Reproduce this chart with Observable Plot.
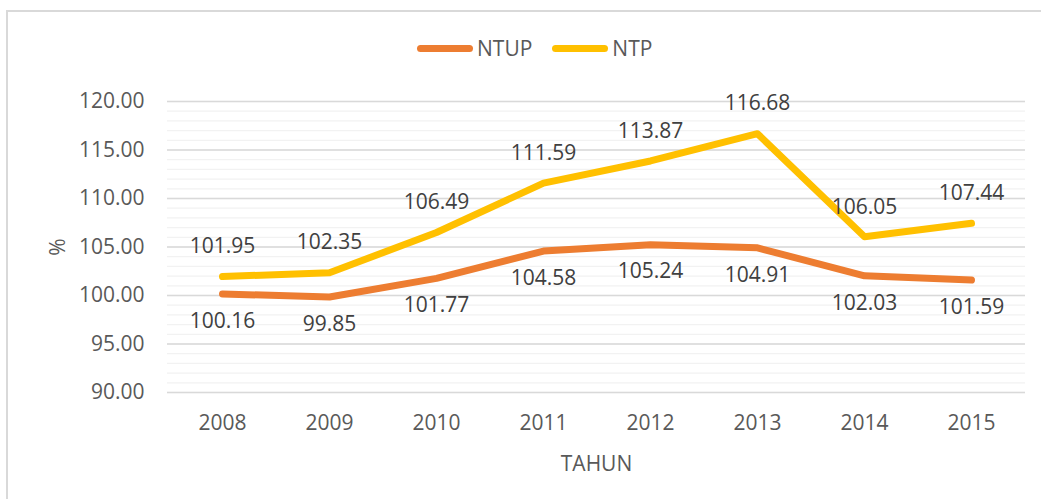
<!DOCTYPE html>
<html>
<head>
<meta charset="utf-8">
<script src="https://cdn.jsdelivr.net/npm/d3@7"></script>
<script src="https://cdn.jsdelivr.net/npm/@observablehq/plot@0.6"></script>
<style>
  html, body { margin: 0; padding: 0; background: #fff; }
  #wrap { position: relative; width: 1041px; height: 499px; overflow: hidden; font-family: "Open Sans", sans-serif; }
  #frame { position: absolute; left: 6px; top: 10px; width: 1100px; height: 600px; border-left: 2px solid #d9d9d9; border-top: 2px solid #d9d9d9; }
  #legend { position: absolute; left: 417px; top: 34px; display: flex; align-items: center; font-size: 21px; color: #595959; z-index: 2; }
  .sw { width: 56px; height: 7px; border-radius: 4px; margin-right: 4px; }
  .item { display: flex; align-items: center; margin-right: 20px; }
  #chart { position: absolute; left: 0; top: 0; }
</style>
</head>
<body>
<div id="wrap">
  <div id="frame"></div>
  <div id="chart"></div>
  <div id="legend"></div>
</div>
<script>
const years = ["2008", "2009", "2010", "2011", "2012", "2013", "2014", "2015"];
const ntup = [100.16, 99.85, 101.77, 104.58, 105.24, 104.91, 102.03, 101.59];
const ntp = [101.95, 102.35, 106.49, 111.59, 113.87, 116.68, 106.05, 107.44];
const seriesNames = ["NTUP", "NTP"];
const seriesColors = ["#ED7D31", "#FFC000"];
const yTicks = [90, 95, 100, 105, 110, 115, 120];

const rowsNtup = years.map((y, i) => ({year: y, value: ntup[i], series: "NTUP"}));
const rowsNtp = years.map((y, i) => ({year: y, value: ntp[i], series: "NTP"}));
const minorTicks = d3.range(90, 121, 1);

const plot = Plot.plot({
  width: 1041,
  height: 499,
  marginLeft: 167,
  marginRight: 16,
  marginTop: 101,
  marginBottom: 107,
  style: {background: "transparent", fontFamily: "Open Sans, sans-serif", fontSize: "21px", color: "#595959"},
  x: {type: "point", domain: years, padding: 0.5, label: null},
  y: {domain: [90, 120], label: null},
  marks: [
    Plot.gridY(minorTicks, {stroke: "#f2f2f2", strokeOpacity: 1, strokeWidth: 1.3}),
    Plot.gridY(yTicks, {stroke: "#d9d9d9", strokeOpacity: 1, strokeWidth: 1.3}),
    Plot.axisY(yTicks, {tickSize: 0, tickPadding: 23, tickFormat: d => d.toFixed(2), fill: "#595959", fontSize: 21,
      label: "%", labelAnchor: "center", labelOffset: 117, labelArrow: false}),
    Plot.axisX({tickSize: 0, tickPadding: 23, fill: "#595959", fontSize: 21,
      label: "TAHUN", labelAnchor: "center", labelOffset: 78, labelArrow: false}),
    Plot.line(rowsNtup, {x: "year", y: "value", stroke: seriesColors[0], strokeWidth: 7, strokeLinecap: "round", strokeLinejoin: "round"}),
    Plot.line(rowsNtp, {x: "year", y: "value", stroke: seriesColors[1], strokeWidth: 7, strokeLinecap: "round", strokeLinejoin: "round"}),
    Plot.text(rowsNtp, {x: "year", y: "value", text: d => d.value.toFixed(2), dy: -30, fill: "#404040", fontSize: 21}),
    Plot.text(rowsNtup, {x: "year", y: "value", text: d => d.value.toFixed(2), dy: 27, fill: "#404040", fontSize: 21})
  ]
});
document.getElementById("chart").appendChild(plot);

const legend = document.getElementById("legend");
seriesNames.forEach((name, i) => {
  const item = document.createElement("div");
  item.className = "item";
  const sw = document.createElement("div");
  sw.className = "sw";
  sw.style.background = seriesColors[i];
  const label = document.createElement("span");
  label.textContent = name;
  item.appendChild(sw);
  item.appendChild(label);
  legend.appendChild(item);
});
</script>
</body>
</html>
